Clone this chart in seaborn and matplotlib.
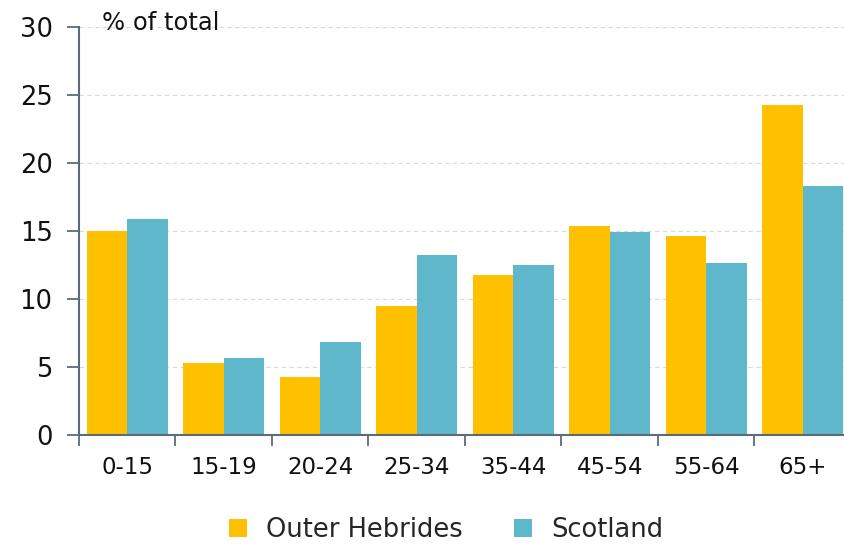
import matplotlib
matplotlib.use("Agg")
import matplotlib.pyplot as plt
import seaborn as sns
import pandas as pd
from matplotlib.patches import Patch
from matplotlib.ticker import FixedLocator

categories = ["0-15", "15-19", "20-24", "25-34", "35-44", "45-54", "55-64", "65+"]
outer_hebrides = [15.0, 5.3, 4.25, 9.5, 11.8, 15.35, 14.65, 24.25]
scotland = [15.9, 5.65, 6.85, 13.25, 12.5, 14.9, 12.65, 18.3]
series_names = ["Outer Hebrides", "Scotland"]
colors = ["#FFC000", "#5FB7CB"]

df = pd.DataFrame({
    "age": categories * 2,
    "value": outer_hebrides + scotland,
    "series": [series_names[0]] * len(categories) + [series_names[1]] * len(categories),
})

sns.set_theme(style="white")
plt.rcParams['font.family'] = ['DejaVu Sans']

fig = plt.figure(figsize=(8.45, 5.45), dpi=100)
ax = fig.add_axes([0.0935, 0.2018, 0.9135, 0.7487])

sns.barplot(data=df, x="age", y="value", hue="series", palette=colors,
            width=0.84, gap=0, saturation=1, ax=ax, legend=False, errorbar=None)

for p in ax.patches:
    p.set_edgecolor("none")

ax.set_xlim(-0.5, len(categories) - 0.5)
ax.set_ylim(0, 30)
ax.set_yticks([0, 5, 10, 15, 20, 25, 30])
ax.yaxis.grid(True, linestyle=(0, (4, 3)), color="#d9d9d9", linewidth=0.8)
ax.set_axisbelow(True)

spine_c = "#5B6B7A"
for s in ["top", "right"]:
    ax.spines[s].set_visible(False)
for s in ["left", "bottom"]:
    ax.spines[s].set_color(spine_c)
    ax.spines[s].set_linewidth(1.5)

ax.tick_params(axis="y", which="major", direction="out", length=9, width=1.3,
               color=spine_c, labelsize=18.5, labelcolor="#111111", pad=10, left=True)
ax.tick_params(axis="x", which="major", length=0, labelsize=16.5, labelcolor="#111111", pad=15)
ax.xaxis.set_minor_locator(FixedLocator([i - 0.5 for i in range(len(categories) + 1)]))
ax.tick_params(axis="x", which="minor", direction="out", length=8, width=1.3,
               color=spine_c, bottom=True)
ax.set_xlabel("")
ax.set_ylabel("")

fig.text(0.121, 0.958, "% of total", fontsize=17.5, color="#111111", va="center", ha="left")

handles = [Patch(facecolor=c, edgecolor="none", label=n) for c, n in zip(colors, series_names)]
fig.legend(handles=handles, loc="center", bbox_to_anchor=(0.528, 0.028), ncol=2,
           frameon=False, fontsize=18.5, handlelength=0.7, handleheight=0.7,
           handletextpad=0.75, columnspacing=2.0)

fig.savefig("out.png", dpi=100)
